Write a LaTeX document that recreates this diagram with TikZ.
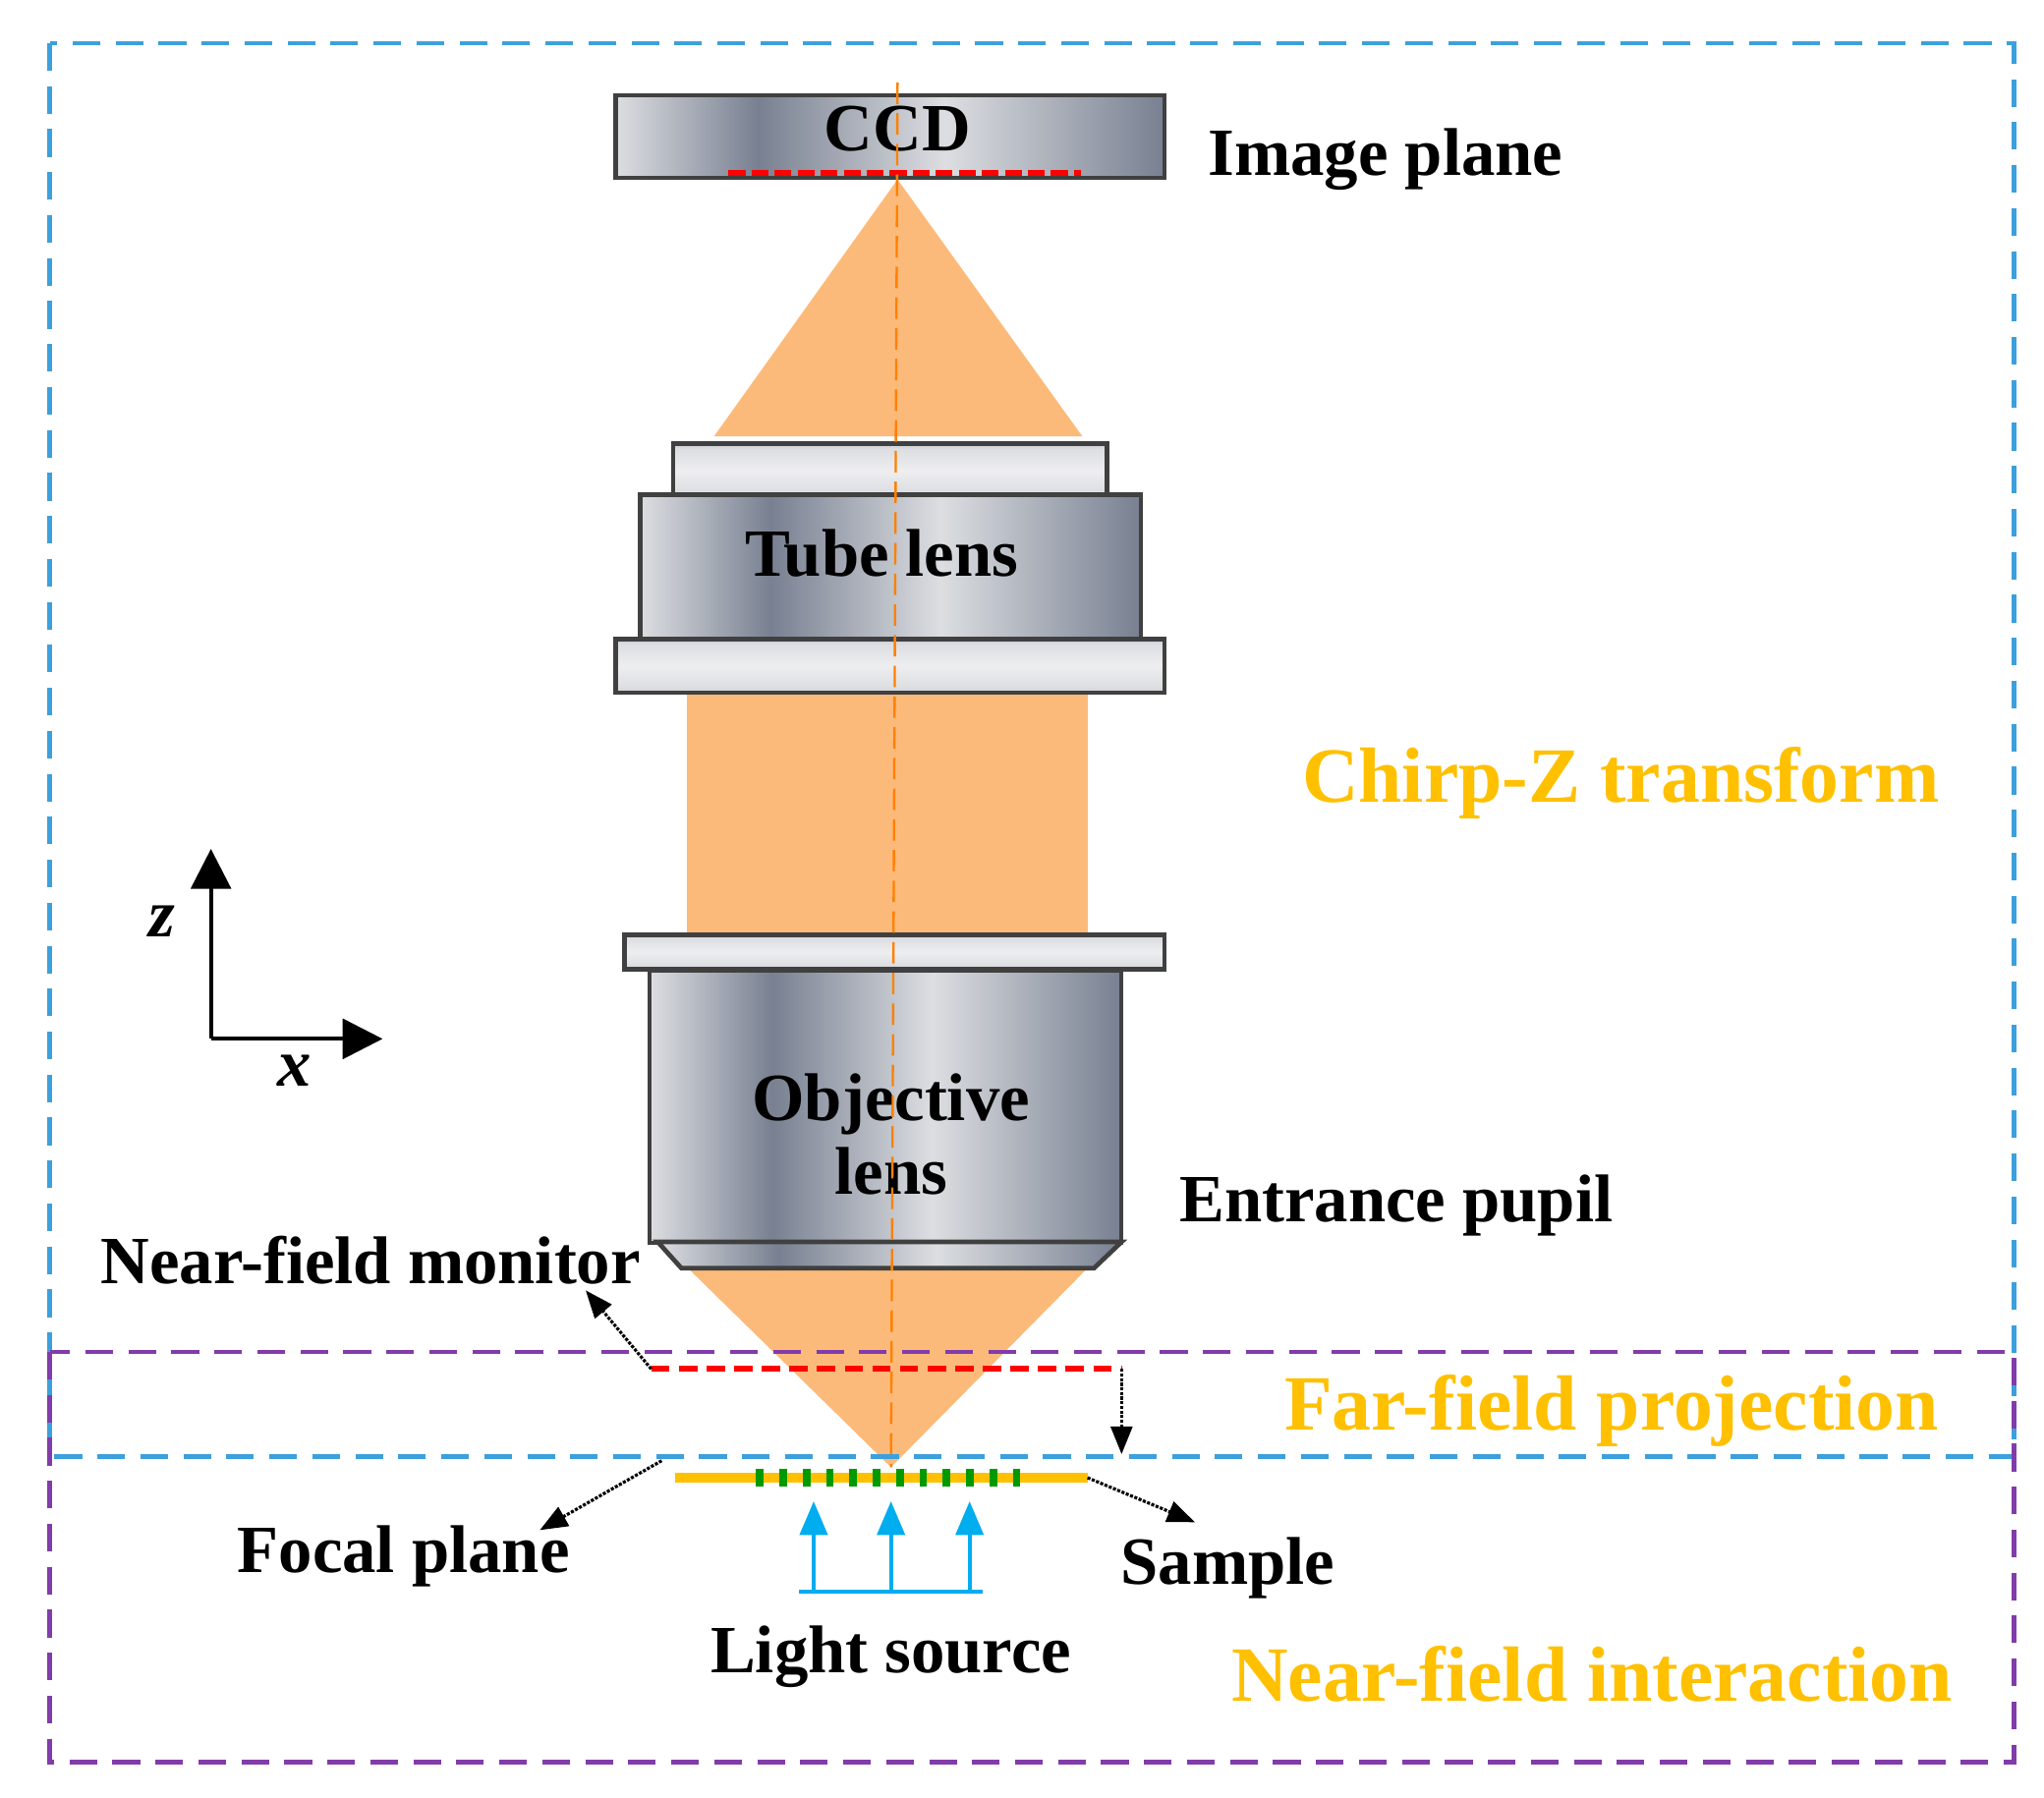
\documentclass[tikz,border=0pt]{standalone}
\usepackage{fontspec}
\setmainfont{Liberation Serif}
\usetikzlibrary{arrows.meta}
\definecolor{beam}{RGB}{252,186,122}
\definecolor{lbl}{RGB}{255,192,0}
\definecolor{bbox}{RGB}{60,160,220}
\definecolor{pbox}{RGB}{130,60,170}
\definecolor{mg1}{RGB}{238,238,240}
\definecolor{mg2}{RGB}{120,128,145}
\definecolor{mg3}{RGB}{220,222,225}
\pgfdeclarehorizontalshading{metal}{100bp}{color(0bp)=(mg1); color(25bp)=(mg3); color(38bp)=(mg2); color(55bp)=(mg3); color(75bp)=(mg2); color(100bp)=(mg1)}
\pgfdeclareverticalshading{plate}{100bp}{color(0bp)=(mg2); color(30bp)=(mg3); color(50bp)=(mg1); color(70bp)=(mg3); color(100bp)=(mg2)}
\begin{document}
\begin{tikzpicture}[x=0.03cm,y=-0.03cm,
  met/.style={draw=black!75,line width=3pt,shading=metal},
  pl/.style={draw=black!75,line width=3pt,shading=plate},
  txt/.style={font=\bfseries\fontsize{44}{48}\selectfont},
  big/.style={font=\bfseries\fontsize{51}{55}\selectfont,text=lbl},
  dot/.style={densely dotted,line width=2pt,-{Triangle[length=18pt,width=14pt]}}]
\useasboundingbox (0,0) rectangle (1560,1372);
% beams
\fill[beam] (685,137) -- (826,333) -- (545,333) -- cycle;
\fill[beam] (524,527) rectangle (830,713);
\fill[beam] (525,968) -- (830,968) -- (680,1120) -- cycle;
% CCD
\node[met,minimum width=0.03cm*419,minimum height=0.03cm*63,inner sep=0,anchor=north west] (ccd) at (468,71) {};
\node[txt] (ccdt) at (685,98) {CCD};
\draw[red,line width=4pt,dash pattern=on 11pt off 4pt] (556,132) -- (825,132);
% tube lens
\node[pl,minimum width=0.03cm*331,minimum height=0.03cm*41,inner sep=0,anchor=north west] (t1) at (512,337) {};
\node[met,minimum width=0.03cm*382,minimum height=0.03cm*110,inner sep=0,anchor=north west] (t2) at (487,376) {};
\node[pl,minimum width=0.03cm*419,minimum height=0.03cm*41,inner sep=0,anchor=north west] (t3) at (468,486) {};
\node[txt] (tt) at (673,422) {Tube lens};
% objective
\node[pl,minimum width=0.03cm*412,minimum height=0.03cm*26,inner sep=0,anchor=north west] (o1) at (475,712) {};
\node[met,minimum width=0.03cm*360,minimum height=0.03cm*208,inner sep=0,anchor=north west] (o2) at (494,739) {};
\shade[shading=metal,draw=black!75,line width=3pt] (502,948) -- (856,948) -- (835,968) -- (520,968) -- cycle;
\node[txt,align=center] (ot) at (680,866) {Objective\\lens};
% axis
\draw[orange,line width=1.5pt,dash pattern=on 14pt off 6pt] (685,63) -- (680,1120);
% boxes
\draw[bbox,line width=3pt,dash pattern=on 18pt off 10pt] (38,33) rectangle (1537,1112);
\draw[pbox,line width=3pt,dash pattern=on 18pt off 10pt] (38,1032) rectangle (1537,1345);
% monitor
\coordinate (ml) at (497,1045); \coordinate (mr) at (856,1045);
\draw[red,line width=4pt,dash pattern=on 12pt off 6pt] (ml) -- (mr);
\coordinate (nm) at (447,985); \coordinate (fa) at (856,1110);
\draw[dot] (ml) -- (nm);
\draw[dot] (mr) -- (fa);
% sample
\coordinate (sl) at (515,1128); \coordinate (sr) at (830,1128);
\draw[lbl,line width=6pt] (sl) -- (sr);
\foreach \i in {0,...,11} \draw[green!60!black,line width=5pt] (580+\i*17.8,1121) -- (580+\i*17.8,1135);
\coordinate (fp) at (412,1168); \coordinate (fs) at (505,1115); \coordinate (sp) at (912,1162);
\draw[dot] (fs) -- (fp);
\draw[dot] (sr) -- (sp);
% light
\draw[cyan,line width=2.5pt] (610,1215) -- (750,1215);
\foreach \x in {621,680,740} \draw[cyan,line width=2.5pt,-{Triangle[length=22pt,width=18pt]}] (\x,1215) -- (\x,1146);
% coordinate axes
\coordinate (o) at (161,793);
\draw[line width=2.5pt,-{Triangle[length=26pt,width=26pt]}] (o) -- (161,648);
\draw[line width=2.5pt,-{Triangle[length=26pt,width=26pt]}] (o) -- (292,793);
\node[font=\bfseries\itshape\fontsize{44}{48}\selectfont] (zl) at (124,703) {z};
\node[font=\bfseries\itshape\fontsize{44}{48}\selectfont] (xl) at (225,817) {x};
% labels
\node[txt,anchor=west] (ip) at (918,122) {Image plane};
\node[txt,anchor=west] (ep) at (896,920) {Entrance pupil};
\node[txt] (nmt) at (283,962) {Near-field monitor};
\node[txt] (fpt) at (308,1188) {Focal plane};
\node[txt] (spt) at (937,1197) {Sample};
\node[txt] (lst) at (680,1265) {Light source};
\node[big] (cz) at (1237,598) {Chirp-Z transform};
\node[big] (ff) at (1230,1077) {Far-field projection};
\node[big] (ni) at (1215,1278) {Near-field interaction};
\end{tikzpicture}
\end{document}
